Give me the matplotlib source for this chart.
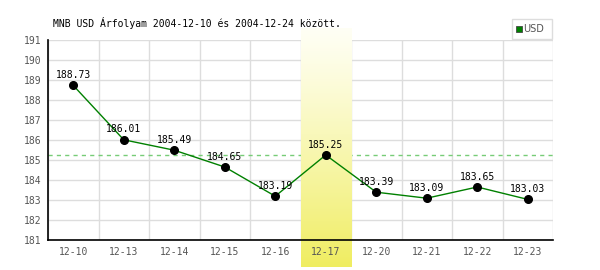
import matplotlib
matplotlib.use("Agg")
import matplotlib.pyplot as plt
import numpy as np
from matplotlib.patches import Rectangle

categories = ["12-10", "12-13", "12-14", "12-15", "12-16", "12-17", "12-20", "12-21", "12-22", "12-23"]
values = [188.73, 186.01, 185.49, 184.65, 183.19, 185.25, 183.39, 183.09, 183.65, 183.03]
highlight = "12-17"
ref_value = 185.25
title = "MNB USD Árfolyam 2004-12-10 és 2004-12-24 között."
legend_label = "USD"
yticks = list(range(181, 192))

mono = "DejaVu Sans Mono"
fig = plt.figure(figsize=(6, 2.7), dpi=100)
ax = fig.add_axes([48/600, 1-240/270, 505/600, 200/270])
x = np.arange(len(categories))

# grid
for yv in yticks:
    ax.axhline(yv, color="#dddddd", lw=1, zorder=0)
for k in range(len(categories) + 1):
    ax.axvline(k - 0.5, color="#dddddd", lw=1, zorder=0)

ax.axhline(ref_value, color="#77cc77", lw=1, ls=(0, (3, 3)), zorder=0.5)

# highlight band with gradient
hi = categories.index(highlight)
grad = np.linspace(0, 1, 256).reshape(-1, 1) ** 1.15
top = np.array([1.0, 1.0, 0.96])
bot = np.array([0.94, 0.93, 0.38])
img = top[None, None, :] * (1 - grad[:, :, None]) + bot[None, None, :] * grad[:, :, None]
ax.imshow(img, extent=[hi - 0.5, hi + 0.5, 179.65, 191.6], aspect="auto",
          zorder=1, clip_on=False, interpolation="bilinear")
ax.set_xlim(-0.5, len(categories) - 0.5)
ax.set_ylim(181, 191)

ax.plot(x, values, color="#008000", lw=1, zorder=3)
ax.plot(x, values, "o", color="black", ms=5.5, zorder=4)
for xi, v in zip(x, values):
    ax.annotate(f"{v:.2f}", (xi, v), xytext=(0, 7.5), textcoords="offset points",
                ha="center", va="center", fontsize=7, family=mono, color="black", zorder=5)

for s in ["top", "right"]:
    ax.spines[s].set_visible(False)
for s in ["left", "bottom"]:
    ax.spines[s].set_color("black")
    ax.spines[s].set_linewidth(1.2)
    ax.spines[s].set_zorder(6)

ax.set_xticks(x)
ax.set_xticklabels(categories, family=mono, fontsize=7, color="#555555")
ax.set_yticks(yticks)
ax.set_yticklabels([str(t) for t in yticks], family=mono, fontsize=7, color="#555555")
ax.tick_params(length=0, pad=5)

fig.text(53/600, 1-23/270, title, family=mono, fontsize=7, color="black", va="center", ha="left")

# legend
fig.patches.append(Rectangle((512/600, 1-39/270), 40/600, 20/270, transform=fig.transFigure,
                             facecolor="white", edgecolor="#dddddd", lw=1))
fig.patches.append(Rectangle((516/600, 1-32/270), 6/600, 6/270, transform=fig.transFigure,
                             facecolor="#008000", edgecolor="#444444", lw=0.6))
fig.text(523.5/600, 1-29.5/270, legend_label, fontsize=7, color="#555555", va="center", ha="left",
         family="DejaVu Sans")

fig.savefig("out.png", dpi=100, facecolor="white")
